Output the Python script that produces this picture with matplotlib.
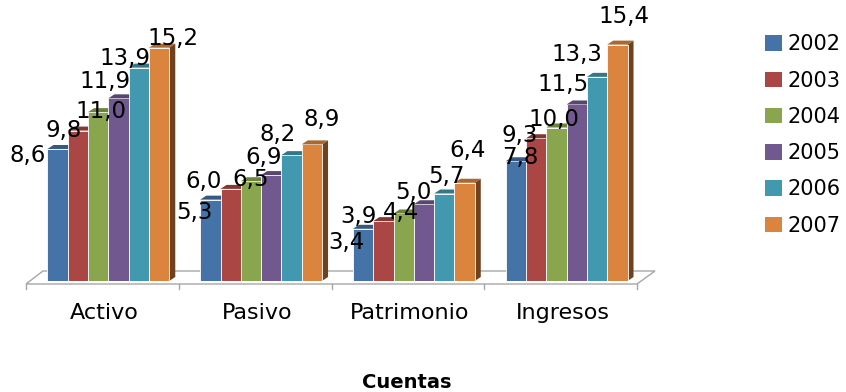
import numpy as np
import matplotlib
matplotlib.use("Agg")
import matplotlib.pyplot as plt
from matplotlib.patches import Polygon, Patch
from matplotlib.colors import to_rgb

# data
cuentas = ["Activo", "Pasivo", "Patrimonio", "Ingresos"]
years = ["2002", "2003", "2004", "2005", "2006", "2007"]
v2002 = [8.6, 5.3, 3.4, 7.8]
v2003 = [9.8, 6.0, 3.9, 9.3]
v2004 = [11.0, 6.5, 4.4, 10.0]
v2005 = [11.9, 6.9, 5.0, 11.5]
v2006 = [13.9, 8.2, 5.7, 13.3]
v2007 = [15.2, 8.9, 6.4, 15.4]
series = [v2002, v2003, v2004, v2005, v2006, v2007]

colors = ["#4572A7", "#AA4643", "#89A54E", "#71588F", "#4198AF", "#DB843D"]

# label nudges in pixels (dx right, dy up), one row per year, one column per account
nudges = [
    [(-30, -7), (-16, -13), (-17, -14), (4, 4)],
    [(-14, 0), (-27, 7), (-25, 5), (-16, 3)],
    [(3, 1), (0, 2), (-3, 1), (-3, 8)],
    [(-14, 17), (-8, 18), (-11, 12), (-14, 20)],
    [(-14, 9), (-14, 21), (2, 17), (-20, 22)],
    [(14, 9), (10, 25), (3, 32), (7, 28)],
]

def shade(c, f):
    r, g, b = to_rgb(c)
    return (r * f, g * f, b * f)

W, H = 846, 392
fig = plt.figure(figsize=(W / 100, H / 100), dpi=100)
px_cat = 152.75   # pixels per category
px_val = 15.35    # pixels per unit
ymax = 16
ax = fig.add_axes([26 / W, 111 / H, 611 / W, ymax * px_val / H])
ax.set_xlim(-0.5, 3.5)
ax.set_ylim(0, ymax)
for s in ax.spines.values():
    s.set_visible(False)
ax.set_yticks([])

# floor
fy0 = -3 / px_val
fy1 = 10 / px_val
floor = Polygon([(-0.5, fy0), (3.5, fy0), (3.5 + 18 / px_cat, fy1), (-0.5 + 17 / px_cat, fy1)],
                closed=True, facecolor="white", edgecolor="#a6a6a6", lw=1.0, clip_on=False, zorder=1)
ax.add_patch(floor)
for b in np.arange(-0.5, 3.6, 1.0):
    ax.plot([b, b], [fy0, fy0 - 5 / px_val], color="#a6a6a6", lw=1.0, clip_on=False, zorder=1)

w = 20.3 / px_cat
shift = 6 / px_cat
dx = 6 / px_cat
dy = 4 / px_val
x = np.arange(len(cuentas))

for j, vals in enumerate(series):
    xs = x + shift + (j - 2.5) * w
    ax.bar(xs, vals, width=w, color=colors[j], edgecolor="white", linewidth=0.6,
           zorder=2 + j)
    for i, (xc, v) in enumerate(zip(xs, vals)):
        top = Polygon([(xc - w / 2, v), (xc + w / 2, v), (xc + w / 2 + dx, v + dy), (xc - w / 2 + dx, v + dy)],
                      closed=True, facecolor=shade(colors[j], 0.78), edgecolor="none", zorder=2 + j, clip_on=False)
        side = Polygon([(xc + w / 2, 0), (xc + w / 2 + dx, dy), (xc + w / 2 + dx, v + dy), (xc + w / 2, v)],
                       closed=True, facecolor=shade(colors[j], 0.5), edgecolor="none", zorder=1.9 + j)
        ax.add_patch(top)
        ax.add_patch(side)
        ndx, ndy = nudges[j][i]
        ax.annotate(f"{v:.1f}".replace(".", ","), xy=(xc, v), xytext=(ndx, ndy),
                    textcoords="offset pixels", ha="center", va="center",
                    fontsize=16.5, color="black", zorder=20, annotation_clip=False)

ax.set_xticks(x + 2 / px_cat)
ax.set_xticklabels(cuentas, fontsize=16)
ax.tick_params(axis="x", length=0, pad=16)

fig.text(407 / W, 1 - 383 / H, "Cuentas", fontsize=14, fontweight="bold",
         ha="center", va="center")

handles = [Patch(facecolor=c, edgecolor="none") for c in colors]
fig.legend(handles, years, loc="upper left", bbox_to_anchor=(757 / W, 1 - 26 / H),
           frameon=False, fontsize=15, handlelength=0.78, handleheight=0.78,
           handletextpad=0.3, labelspacing=0.78, borderaxespad=0)

fig.savefig("out.png", dpi=100)
